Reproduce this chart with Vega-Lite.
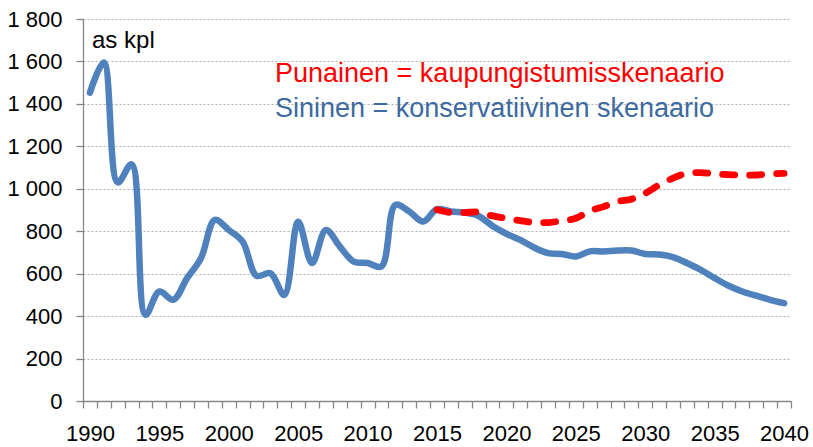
{
  "$schema": "https://vega.github.io/schema/vega-lite/v6.json",
  "width": 708,
  "height": 382,
  "autosize": "none",
  "padding": {"left": 83, "top": 19, "right": 22, "bottom": 46},
  "background": "white",
  "config": {
    "view": {"stroke": null},
    "font": "Liberation Sans"
  },
  "datasets": {
    "blue": [
      {"year": 1990, "value": 1453}, {"year": 1991, "value": 1595}, {"year": 1992, "value": 1030},
      {"year": 1993, "value": 1115}, {"year": 1994, "value": 406}, {"year": 1995, "value": 516},
      {"year": 1996, "value": 477}, {"year": 1997, "value": 579}, {"year": 1998, "value": 673},
      {"year": 1999, "value": 853}, {"year": 2000, "value": 806}, {"year": 2001, "value": 751},
      {"year": 2002, "value": 590}, {"year": 2003, "value": 602}, {"year": 2004, "value": 500},
      {"year": 2005, "value": 845}, {"year": 2006, "value": 650}, {"year": 2007, "value": 806},
      {"year": 2008, "value": 728}, {"year": 2009, "value": 657}, {"year": 2010, "value": 650},
      {"year": 2011, "value": 634}, {"year": 2012, "value": 924}, {"year": 2013, "value": 893},
      {"year": 2014, "value": 846}, {"year": 2015, "value": 904}, {"year": 2016, "value": 893},
      {"year": 2017, "value": 888}, {"year": 2018, "value": 872}, {"year": 2019, "value": 825},
      {"year": 2020, "value": 788}, {"year": 2021, "value": 759}, {"year": 2022, "value": 723},
      {"year": 2023, "value": 697}, {"year": 2024, "value": 693}, {"year": 2025, "value": 681},
      {"year": 2026, "value": 705}, {"year": 2027, "value": 705}, {"year": 2028, "value": 709},
      {"year": 2029, "value": 709}, {"year": 2030, "value": 693}, {"year": 2031, "value": 690},
      {"year": 2032, "value": 678}, {"year": 2033, "value": 650}, {"year": 2034, "value": 618},
      {"year": 2035, "value": 579}, {"year": 2036, "value": 543}, {"year": 2037, "value": 516},
      {"year": 2038, "value": 496}, {"year": 2039, "value": 477}, {"year": 2040, "value": 461}
    ],
    "red": [
      {"year": 2015, "value": 901}, {"year": 2016, "value": 888}, {"year": 2017, "value": 888},
      {"year": 2018, "value": 890}, {"year": 2019, "value": 872}, {"year": 2020, "value": 861},
      {"year": 2021, "value": 850}, {"year": 2022, "value": 841}, {"year": 2023, "value": 841},
      {"year": 2024, "value": 849}, {"year": 2025, "value": 861}, {"year": 2026, "value": 896},
      {"year": 2027, "value": 916}, {"year": 2028, "value": 940}, {"year": 2029, "value": 951},
      {"year": 2030, "value": 979}, {"year": 2031, "value": 1018}, {"year": 2032, "value": 1050},
      {"year": 2033, "value": 1073}, {"year": 2034, "value": 1076}, {"year": 2035, "value": 1070},
      {"year": 2036, "value": 1067}, {"year": 2037, "value": 1064}, {"year": 2038, "value": 1065},
      {"year": 2039, "value": 1070}, {"year": 2040, "value": 1073}
    ],
    "labels": [
      {"label": "as kpl"}
    ]
  },
  "layer": [
    {
      "data": {"name": "blue"},
      "mark": {"type": "line", "color": "#4F81BD", "strokeWidth": 6.5, "interpolate": "catmull-rom", "strokeCap": "round", "strokeJoin": "round"},
      "encoding": {
        "x": {
          "field": "year", "type": "quantitative",
          "scale": {"domain": [1989.5, 2040.5], "nice": false, "zero": false},
          "axis": {
            "title": null,
            "grid": false,
            "tickCount": 200,
            "values": [1989.5,1990.5,1991.5,1992.5,1993.5,1994.5,1995.5,1996.5,1997.5,1998.5,1999.5,2000.5,2001.5,2002.5,2003.5,2004.5,2005.5,2006.5,2007.5,2008.5,2009.5,2010.5,2011.5,2012.5,2013.5,2014.5,2015.5,2016.5,2017.5,2018.5,2019.5,2020.5,2021.5,2022.5,2023.5,2024.5,2025.5,2026.5,2027.5,2028.5,2029.5,2030.5,2031.5,2032.5,2033.5,2034.5,2035.5,2036.5,2037.5,2038.5,2039.5,2040.5],
            "labelExpr": "(datum.value + 0.5) % 5 == 0 ? format(datum.value + 0.5, 'd') : ''",
            "labelOffset": 6.94,
            "labelOverlap": false,
            "labelFlush": false,
            "labelBound": false,
            "labelFont": "Liberation Sans",
            "labelFontSize": 22,
            "labelColor": "#000000",
            "labelBaseline": "alphabetic",
            "labelPadding": 32,
            "tickSize": 7,
            "tickColor": "#868686",
            "domainColor": "#868686",
            "domainWidth": 1.3,
            "tickWidth": 1.3
          }
        },
        "y": {
          "field": "value", "type": "quantitative",
          "scale": {"domain": [0, 1800], "nice": false},
          "axis": {
            "title": null,
            "tickCount": 200,
            "values": [0,200,400,600,800,1000,1200,1400,1600,1800],
            "labelExpr": "replace(format(datum.value, ','), ',', ' ')",
            "labelFont": "Liberation Sans",
            "labelFontSize": 22,
            "labelColor": "#000000",
            "labelPadding": 14,
            "tickSize": 7,
            "tickColor": "#868686",
            "domainColor": "#868686",
            "domainWidth": 1.3,
            "tickWidth": 1.3,
            "grid": true,
            "gridColor": "#b0b0b0",
            "gridDash": [2, 2],
            "gridWidth": 1
          }
        }
      }
    },
    {
      "data": {"name": "red"},
      "mark": {"type": "line", "color": "#FF0000", "strokeWidth": 6.8, "interpolate": "catmull-rom", "strokeCap": "round", "strokeDash": [12, 15]},
      "encoding": {
        "x": {"field": "year", "type": "quantitative"},
        "y": {"field": "value", "type": "quantitative"}
      }
    },
    {
      "data": {"name": "labels"},
      "mark": {"type": "text", "text": "as kpl", "align": "left", "baseline": "alphabetic", "font": "Liberation Sans", "fontSize": 24, "color": "#000000"},
      "encoding": {"x": {"datum": 1990.15}, "y": {"datum": 1663}}
    },
    {
      "data": {"name": "labels"},
      "mark": {"type": "text", "text": "Punainen = kaupungistumisskenaario", "align": "left", "baseline": "alphabetic", "font": "Liberation Sans", "fontSize": 27, "color": "#FF0000"},
      "encoding": {"x": {"datum": 2003.33}, "y": {"datum": 1505}}
    },
    {
      "data": {"name": "labels"},
      "mark": {"type": "text", "text": "Sininen = konservatiivinen skenaario", "align": "left", "baseline": "alphabetic", "font": "Liberation Sans", "fontSize": 27, "color": "#3D6AA0"},
      "encoding": {"x": {"datum": 2003.33}, "y": {"datum": 1337}}
    }
  ]
}
